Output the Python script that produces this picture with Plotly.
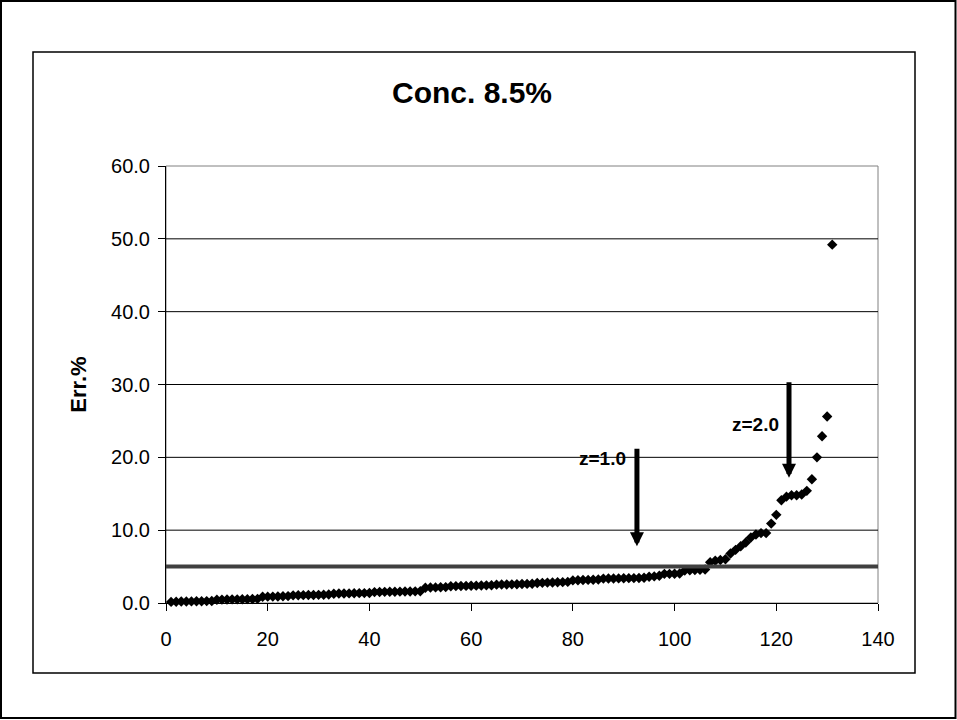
import plotly.graph_objects as go

# Sorted error values (%) for each sample, index 1..131
err_pct = [
    0.15, 0.18, 0.20, 0.20, 0.22, 0.23, 0.25, 0.26, 0.28,
    0.45, 0.47, 0.48, 0.50, 0.50, 0.52, 0.53, 0.55, 0.57,
    0.85, 0.87, 0.88, 0.90, 0.92, 0.95,
    1.05, 1.07, 1.08, 1.10, 1.10, 1.12, 1.14, 1.16,
    1.28, 1.30, 1.31, 1.32, 1.33, 1.35, 1.36, 1.38,
    1.50, 1.52, 1.53, 1.55, 1.55, 1.56, 1.57, 1.58, 1.60, 1.62,
    2.10, 2.12, 2.14, 2.16, 2.18,
    2.30, 2.32, 2.33, 2.35, 2.36, 2.38, 2.40, 2.42, 2.44,
    2.52, 2.54, 2.55, 2.56, 2.58, 2.60, 2.62, 2.64,
    2.75, 2.77, 2.80, 2.82, 2.84, 2.86, 2.90,
    3.10, 3.12, 3.15, 3.17, 3.20, 3.22,
    3.35, 3.36, 3.37, 3.38, 3.40, 3.41, 3.42, 3.44, 3.46,
    3.60, 3.65, 3.75,
    4.00, 4.00, 4.02, 4.05,
    4.45, 4.50, 4.52, 4.55, 4.60,
    5.60, 5.80, 5.90, 6.00,
    6.80, 7.30, 7.80, 8.30, 9.00, 9.40, 9.60, 9.60,
    10.9, 12.1, 14.1, 14.6, 14.8, 14.8, 14.9, 15.4, 17.0, 20.0, 22.9, 25.6, 49.2,
]
sample_idx = list(range(1, len(err_pct) + 1))

threshold = 5.0
y_ticks = [0, 10, 20, 30, 40, 50, 60]
x_ticks = [0, 20, 40, 60, 80, 100, 120, 140]
grid_levels = [10, 20, 30, 40, 50]

# z-score markers: (label, label x, label y, arrow x, arrow top, arrow tip)
z_marks = [
    ("z=1.0", 85.9, 19.9, 92.6, 21.4, 7.8),
    ("z=2.0", 116.0, 24.5, 122.5, 30.5, 17.2),
]

FONT = "Liberation Sans, Arial, sans-serif"
W, H = 957, 720
L, R, T, B = 166, 79, 166, 117
PW, PH = W - L - R, H - T - B


def px_to_paper(px, py):
    return (px - L) / PW, (H - B - py) / PH


fig = go.Figure()

fig.add_trace(go.Scatter(
    x=sample_idx, y=err_pct, mode="markers",
    marker=dict(symbol="diamond", size=8, color="black", line=dict(width=0)),
    cliponaxis=False, showlegend=False,
))

shapes = []
# horizontal gridlines
for g in grid_levels:
    shapes.append(dict(type="line", xref="x", yref="y", x0=0, x1=140, y0=g, y1=g,
                       line=dict(color="black", width=1), layer="below"))
# plot area frame (top/right grey)
shapes.append(dict(type="rect", xref="paper", yref="paper", x0=0, x1=1, y0=0, y1=1,
                   line=dict(color="#808080", width=1), layer="below"))
# threshold line
shapes.append(dict(type="line", xref="x", yref="y", x0=0, x1=140, y0=threshold, y1=threshold,
                   line=dict(color="#404040", width=4), layer="above"))
# chart area border
x0, y0 = px_to_paper(33, 673)
x1, y1 = px_to_paper(915, 52)
shapes.append(dict(type="rect", xref="paper", yref="paper", x0=x0, x1=x1, y0=y0, y1=y1,
                   line=dict(color="black", width=1.5), layer="above"))
# outer border
x0, y0 = px_to_paper(1, 718)
x1, y1 = px_to_paper(955.5, 1)
shapes.append(dict(type="rect", xref="paper", yref="paper", x0=x0, x1=x1, y0=y0, y1=y1,
                   line=dict(color="black", width=2), layer="above"))

annotations = []
for label, lx, ly, axx, atop, atip in z_marks:
    annotations.append(dict(x=lx, y=ly, xref="x", yref="y", text="<b>%s</b>" % label,
                            showarrow=False, font=dict(family=FONT, size=19, color="black")))
    annotations.append(dict(x=axx, y=atip, ax=axx, ay=atop, xref="x", yref="y",
                            axref="x", ayref="y", text="", showarrow=True,
                            arrowhead=2, arrowwidth=5, arrowsize=0.56, arrowcolor="black"))

fig.update_layout(
    width=W, height=H,
    margin=dict(l=L, r=R, t=T, b=B, pad=0),
    paper_bgcolor="white", plot_bgcolor="white",
    title=dict(text="<b>Conc. 8.5%</b>", x=472 / W, xanchor="center",
               y=1 - 92 / H, yanchor="middle",
               font=dict(family=FONT, size=30, color="black")),
    font=dict(family=FONT, color="black"),
    shapes=shapes, annotations=annotations,
    xaxis=dict(range=[0, 140], tickvals=x_ticks, ticktext=[str(v) for v in x_ticks],
               showgrid=False, zeroline=False, showline=True, linecolor="black", linewidth=1,
               ticks="outside", ticklen=7, tickcolor="black", tickwidth=1,
               ticklabelstandoff=11, tickfont=dict(family=FONT, size=20, color="black")),
    yaxis=dict(range=[0, 60], tickvals=y_ticks, ticktext=["%.1f" % v for v in y_ticks],
               showgrid=False, zeroline=False, showline=True, linecolor="black", linewidth=1,
               ticks="outside", ticklen=7, tickcolor="black", tickwidth=1,
               ticklabelstandoff=4, tickfont=dict(family=FONT, size=20, color="black"),
               title=dict(text="<b>Err.%</b>", standoff=18,
                          font=dict(family=FONT, size=22, color="black"))),
)

fig.write_html("out.html")
